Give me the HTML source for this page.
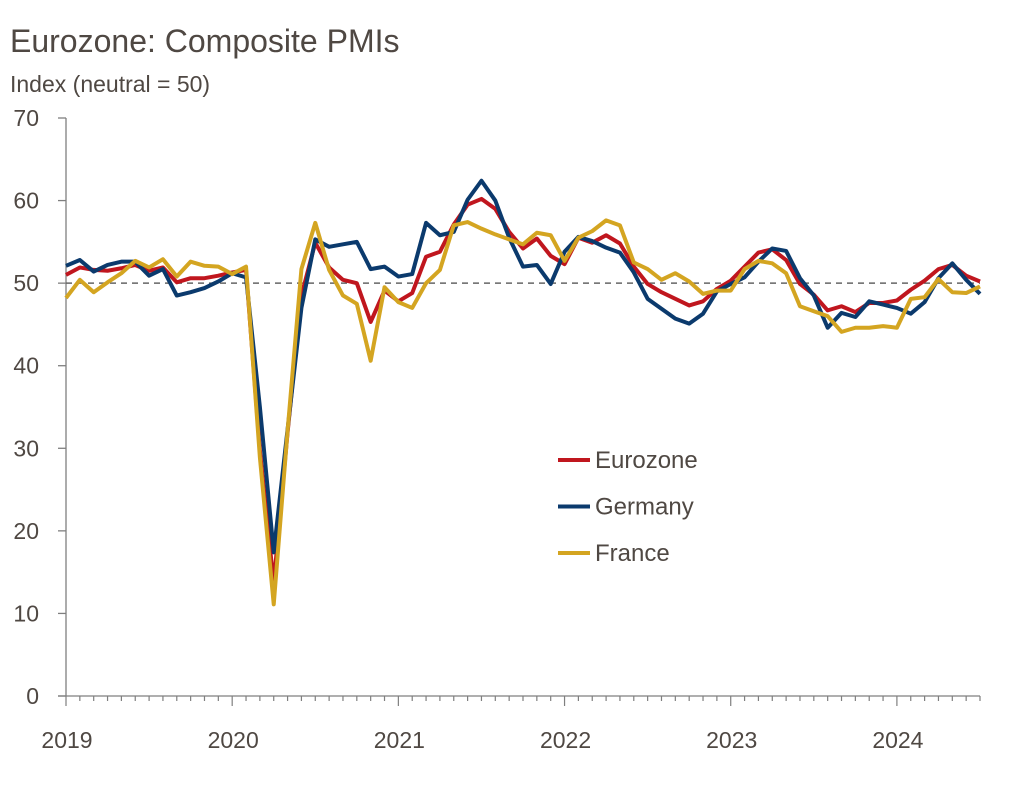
<!DOCTYPE html>
<html><head><meta charset="utf-8"><style>
body{margin:0;background:#fff;font-family:"Liberation Sans",sans-serif;}
svg text{font-family:"Liberation Sans",sans-serif;}
</style></head><body>
<svg id="chart" width="1027" height="804" viewBox="0 0 1027 804" xmlns="http://www.w3.org/2000/svg">
<text x="10" y="52" font-size="32" fill="#4f4843">Eurozone: Composite PMIs</text>
<text x="10" y="92" font-size="23" fill="#4f4843">Index (neutral = 50)</text>
<g id="axes"></g>
<g id="lines"></g>
<g id="legend"></g>
</svg>
<script>
const years = ["2019","2020","2021","2022","2023","2024"];
const yTicks = [0,10,20,30,40,50,60,70];
const eurozone = [51.0,51.9,51.6,51.5,51.8,52.2,51.5,51.9,50.1,50.6,50.6,50.9,
51.3,51.6,29.7,13.6,31.9,48.5,54.9,51.9,50.4,50.0,45.3,49.1,
47.8,48.8,53.2,53.8,57.1,59.5,60.2,59.0,56.2,54.2,55.4,53.3,
52.3,55.5,54.9,55.8,54.8,52.0,49.9,48.9,48.1,47.3,47.8,49.3,
50.3,52.0,53.7,54.1,52.8,49.9,48.6,46.7,47.2,46.5,47.6,47.6,
47.9,49.2,50.3,51.7,52.2,50.9,50.2];
const germany = [52.1,52.8,51.4,52.2,52.6,52.6,50.9,51.7,48.5,48.9,49.4,50.2,
51.2,50.7,35.0,17.4,32.3,47.0,55.3,54.4,54.7,55.0,51.7,52.0,
50.8,51.1,57.3,55.8,56.2,60.1,62.4,60.0,55.5,52.0,52.2,49.9,
53.8,55.6,55.1,54.3,53.7,51.3,48.1,46.9,45.7,45.1,46.3,49.0,
49.9,50.7,52.6,54.2,53.9,50.6,48.5,44.6,46.4,45.9,47.8,47.4,
47.0,46.3,47.7,50.6,52.4,50.4,48.7];
const france = [48.2,50.4,48.9,50.1,51.2,52.7,51.9,52.9,50.8,52.6,52.1,52.0,
51.1,52.0,28.9,11.1,32.1,51.7,57.3,51.6,48.5,47.5,40.6,49.5,
47.7,47.0,50.0,51.6,57.0,57.4,56.6,55.9,55.3,54.7,56.1,55.8,
52.7,55.5,56.3,57.6,57.0,52.5,51.7,50.4,51.2,50.2,48.7,49.1,
49.1,51.7,52.7,52.4,51.2,47.2,46.6,46.0,44.1,44.6,44.6,44.8,
44.6,48.1,48.3,50.5,48.9,48.8,49.6];
const seriesNames = ["Eurozone","Germany","France"];
const NS="http://www.w3.org/2000/svg";
const X0=66,X1=980,Y0=696,Y1=118;
const yS=v=>Y0-(v/70)*(Y0-Y1);
const xS=i=>X0+i*(X1-X0)/66;
function mk(tag,attrs,parent){const e=document.createElementNS(NS,tag);for(const k in attrs)e.setAttribute(k,attrs[k]);parent.appendChild(e);return e;}
const axes=document.getElementById('axes');
let e;
e=mk('line',{x1:X0,y1:Y1,x2:X0,y2:Y0,stroke:'#7f7f7f','stroke-width':1.3},axes);


e=mk('line',{x1:X0-8,y1:Y0,x2:X1,y2:Y0,stroke:'#7f7f7f','stroke-width':1.3},axes);


yTicks.forEach(v=>{
  mk('line',{x1:X0-8,y1:yS(v),x2:X0,y2:yS(v),stroke:'#7f7f7f','stroke-width':1.3},axes);
  const t=mk('text',{x:39,y:yS(v)+8,'font-size':23,'text-anchor':'end',fill:'#4f4843'},axes);
  t.textContent=v;
  
  
});
for(let i=0;i<=66;i++){
  const big=i%12===0;
  mk('line',{x1:xS(i),y1:Y0,x2:xS(i),y2:Y0+(big?10:5),stroke:'#7f7f7f','stroke-width':1.2},axes);
}
years.forEach((y,k)=>{
  const t=mk('text',{x:xS(k*12)+1,y:748,'font-size':23,'text-anchor':'middle',fill:'#4f4843'},axes);
  t.textContent=y;
  
  
});
e=mk('line',{x1:X0,y1:yS(50),x2:X1,y2:yS(50),stroke:'#666','stroke-width':1.5,'stroke-dasharray':'6,5'},axes);


const lines=document.getElementById('lines');
const colors=["#c0161e","#0b3a6d","#d4a521"];
const data=[eurozone,germany,france];
[0,1,2].forEach(s=>{
  const p=mk('polyline',{points:data[s].map((v,i)=>xS(i)+','+yS(v)).join(' '),fill:'none',stroke:colors[s],'stroke-width':4,'stroke-linejoin':'round'},lines);
  
  
});
const leg=document.getElementById('legend');
seriesNames.forEach((n,k)=>{
  const y=460+k*46.5;
  const l=mk('line',{x1:558,y1:y,x2:590,y2:y,stroke:colors[k],'stroke-width':4},leg);
  
  
  const t=mk('text',{x:595,y:y+8,'font-size':24,fill:'#4f4843'},leg);
  t.textContent=n;
  
  
});
</script>
</body></html>
